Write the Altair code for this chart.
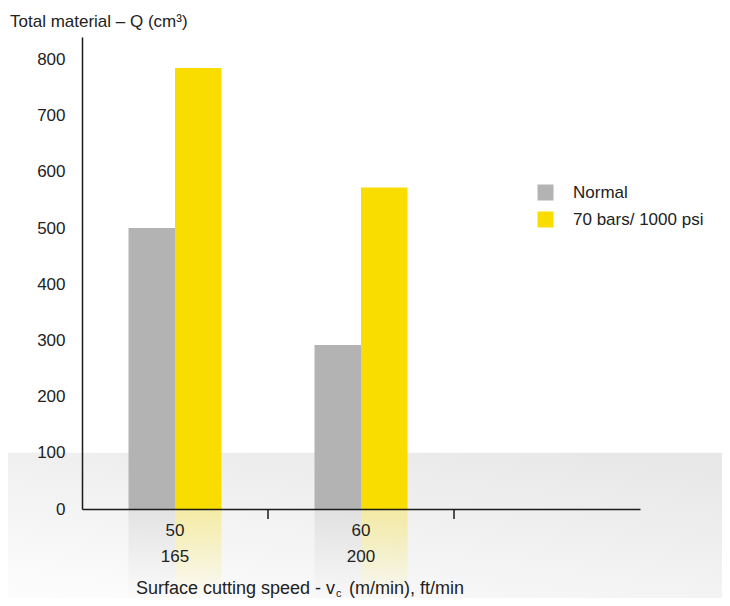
import altair as alt
import pandas as pd

# ---- data ----
categories = ["50|165", "60|200", " | "]          # third slot is empty on the axis
series = ["Normal", "70 bars/ 1000 psi"]
normal_values = [500, 292]
high_pressure_values = [785, 572]
y_tick_values = [0, 100, 200, 300, 400, 500, 600, 700, 800]
boundary_categories = ["60|200", " | "]          # tick marks sit at these band starts

colors = ["#b3b3b3", "#f9dd00"]
FONT = "Liberation Sans"
TXT = "#222222"

rows = []
for c, v in zip(categories[:2], normal_values):
    rows.append({"cat": c, "series": series[0], "value": v})
for c, v in zip(categories[:2], high_pressure_values):
    rows.append({"cat": c, "series": series[1], "value": v})
df = pd.DataFrame(rows)
ticks_df = pd.DataFrame({"cat": boundary_categories})

W, H = 558, 472

x_axis = alt.Axis(
    title=None, ticks=False, labelAngle=0,
    labelExpr="split(datum.label, '|')",
    labelFont=FONT, labelFontSize=17, labelColor=TXT,
    labelLineHeight=26, labelPadding=13,
    domainColor="#1a1a1a", domainWidth=1.5, zindex=1,
)
x_scale = alt.Scale(domain=categories, paddingInner=0, paddingOuter=0)
x_enc = alt.X("cat:N", scale=x_scale, axis=x_axis, sort=categories)
xoff_enc = alt.XOffset("series:N", scale=alt.Scale(domain=series, paddingInner=0, paddingOuter=1))

y_axis = alt.Axis(
    title=None, values=y_tick_values, ticks=False, grid=False,
    labelFont=FONT, labelFontSize=17, labelColor=TXT, labelPadding=17,
    domainColor="#1a1a1a", domainWidth=1.5, zindex=1,
)
y_scale = alt.Scale(domain=[0, 840], nice=False)

# background band (starts at y = 100)
bg_grad = alt.LinearGradient(
    gradient="linear",
    stops=[alt.GradientStop(color="#e8e8e8", offset=0),
           alt.GradientStop(color="#fcfcfc", offset=1)],
    x1=0.8, y1=0, x2=0.1, y2=1,
)
background = alt.Chart(pd.DataFrame({"v": [100]})).mark_rect(fill=bg_grad).encode(
    x=alt.value(-74), x2=alt.value(W + 82),
    y=alt.Y("v:Q", scale=y_scale, axis=y_axis), y2=alt.value(H + 89),
)

bars = alt.Chart(df).mark_bar().encode(
    x=x_enc, xOffset=xoff_enc,
    y=alt.Y("value:Q", scale=y_scale, axis=y_axis),
    color=alt.Color("series:N", scale=alt.Scale(domain=series, range=colors),
                    legend=alt.Legend(orient="none", legendX=455, legendY=147, title=None,
                                      symbolType="square", symbolSize=256, symbolStrokeWidth=0,
                                      labelFont=FONT, labelFontSize=17, labelColor=TXT,
                                      labelOffset=19, rowPadding=9, padding=0)),
)

def stripe(name, rgb, a0):
    g = alt.LinearGradient(
        gradient="linear",
        stops=[alt.GradientStop(color=f"rgba({rgb},{a0})", offset=0),
               alt.GradientStop(color=f"rgba({rgb},0)", offset=1)],
        x1=0, y1=0, x2=0, y2=1,
    )
    return alt.Chart(df).transform_filter(alt.datum.series == name).mark_bar(fill=g).encode(
        x=x_enc, xOffset=xoff_enc, y=alt.value(H), y2=alt.value(H + 92),
    )

stripe_n = stripe(series[0], "170,170,170", 0.22)
stripe_h = stripe(series[1], "249,221,0", 0.32)

tick_rules = alt.Chart(ticks_df).mark_rule(color="#1a1a1a", strokeWidth=1.5).encode(
    x=alt.X("cat:N", scale=x_scale, axis=x_axis, bandPosition=0),
    y=alt.value(H), y2=alt.value(H + 10),
)

text_base = dict(font=FONT, fontSize=17, color=TXT, align="left", baseline="alphabetic")
title_txt = alt.Chart(pd.DataFrame({"t": ["Total material \u2013 Q (cm\u00b3)"]})).mark_text(**text_base).encode(
    text="t:N", x=alt.value(-72), y=alt.value(-10))

xt1 = alt.Chart(pd.DataFrame({"t": ["Surface cutting speed - v"]})).mark_text(
    **{**text_base, "align": "right", "fontSize": 18}).encode(text="t:N", x=alt.value(253), y=alt.value(557))
xt2 = alt.Chart(pd.DataFrame({"t": ["c"]})).mark_text(
    **{**text_base, "fontSize": 11}).encode(text="t:N", x=alt.value(254), y=alt.value(560))
xt3 = alt.Chart(pd.DataFrame({"t": ["(m/min), ft/min"]})).mark_text(
    **{**text_base, "fontSize": 18}).encode(text="t:N", x=alt.value(267), y=alt.value(557))

chart = alt.layer(
    background, stripe_n, stripe_h, bars, tick_rules, title_txt, xt1, xt2, xt3
).properties(
    width=W, height=H,
    autosize=alt.AutoSizeParams(type="none"),
    padding={"left": 74, "top": 29, "right": 82, "bottom": 89},
    background="#ffffff",
).configure_view(stroke=None)

chart.save("out.html", embed_options={"renderer": "svg", "actions": False})
